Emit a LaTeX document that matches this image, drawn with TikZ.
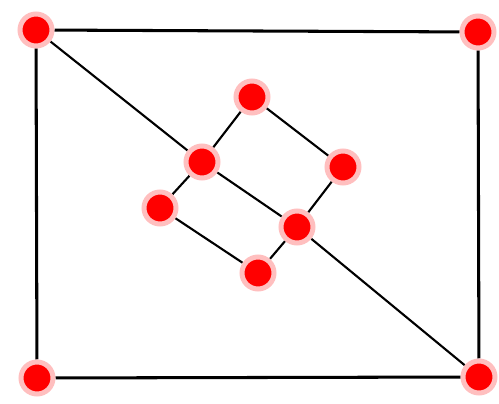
\documentclass[tikz,border=0pt]{standalone}
\usepackage{tikz}
\usetikzlibrary{positioning,backgrounds}

\begin{document}
\begin{tikzpicture}[
    x=0.03cm, y=-0.03cm,
    vertex/.style={circle,fill=red,draw=red!25,line width=0.15cm,minimum size=0.96cm,inner sep=0pt},
    frame/.style={line width=2.6pt,black},
    link/.style={line width=1.8pt,black}
]
\useasboundingbox (0,0) rectangle (499,404);

% Corners
\node[vertex] (tl) at (36,30) {};
\node[vertex] (tr) at (478,32) {};
\node[vertex] (bl) at (37,378) {};
\node[vertex] (br) at (479,377) {};

% Inner nodes
\node[vertex] (a) at (252,97) {};
\node[vertex] (b) at (202,162) {};
\node[vertex] (c) at (343,167) {};
\node[vertex] (d) at (160,208) {};
\node[vertex] (e) at (297,227) {};
\node[vertex] (f) at (258,273) {};

\begin{scope}[on background layer]
% Outer frame
\draw[frame] (tl) -- (tr);
\draw[frame] (tr) -- (br);
\draw[frame] (br) -- (bl);
\draw[frame] (bl) -- (tl);

% Diagonal
\draw[link] (tl) -- (b);
\draw[link] (b) -- (e);
\draw[link] (e) -- (br);

% Inner squares
\draw[link] (b) -- (a);
\draw[link] (a) -- (c);
\draw[link] (c) -- (e);
\draw[link] (b) -- (d);
\draw[link] (d) -- (f);
\draw[link] (f) -- (e);
\end{scope}
\end{tikzpicture}
\end{document}
